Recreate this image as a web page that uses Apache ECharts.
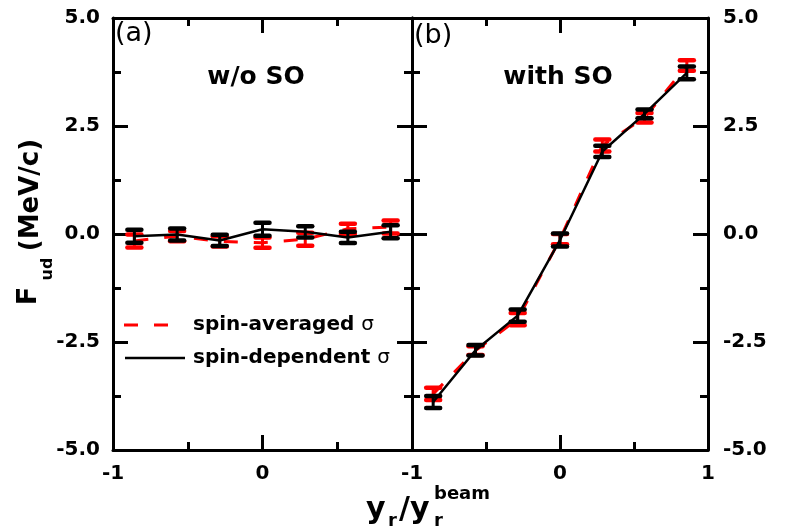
<!DOCTYPE html>
<html><head><meta charset="utf-8">
<script src="https://cdn.jsdelivr.net/npm/echarts@6/dist/echarts.min.js"></script>
<style>html,body{margin:0;padding:0;background:#fff}#c{width:786px;height:531px}</style>
</head><body><div id="c"></div>
<script>
// ---- data ----
const xValues = [-0.857, -0.571, -0.286, 0, 0.286, 0.571, 0.857];
// panel (a) w/o SO
const noSoAveraged    = [-0.16, -0.05, -0.17, -0.20, -0.12, 0.12, 0.16];
const noSoAveragedErr = [0.15, 0.12, 0.12, 0.12, 0.15, 0.12, 0.15];
const noSoDependent    = [-0.05, -0.01, -0.15, 0.11, 0.05, -0.08, 0.05];
const noSoDependentErr = [0.15, 0.14, 0.13, 0.15, 0.13, 0.13, 0.15];
// panel (b) with SO
const soAveraged    = [-3.70, -2.70, -1.97, -0.12, 2.05, 2.69, 3.90];
const soAveragedErr = [0.14, 0.10, 0.14, 0.12, 0.14, 0.11, 0.12];
const soDependent    = [-3.89, -2.69, -1.89, -0.14, 1.91, 2.78, 3.73];
const soDependentErr = [0.14, 0.12, 0.14, 0.15, 0.13, 0.10, 0.15];
const yTicks = [-5, -2.5, 0, 2.5, 5];
const xTicks = [-1, 0, 1];
const legendNames = ['spin-averaged', 'spin-dependent'];

const FONT = 'DejaVu Sans';
const RED = '#ff0000', BLACK = '#000000';

function pairs(ys) { return xValues.map((x, i) => [x, ys[i]]); }
function bars(ys, errs) { return xValues.map((x, i) => [x, ys[i] - errs[i], ys[i] + errs[i]]); }

function errRender(color) {
  return function (params, api) {
    const x = api.value(0);
    const lo = api.coord([x, api.value(1)]);
    const hi = api.coord([x, api.value(2)]);
    const hw = 7;
    const cap = { stroke: color, lineWidth: 4.5, fill: null, lineCap: 'round' };
    return { type: 'group', children: [
      { type: 'line', shape: { x1: lo[0], y1: lo[1], x2: hi[0], y2: hi[1] }, style: { stroke: color, lineWidth: 3 } },
      { type: 'line', shape: { x1: lo[0] - hw, y1: lo[1], x2: lo[0] + hw, y2: lo[1] }, style: cap },
      { type: 'line', shape: { x1: hi[0] - hw, y1: hi[1], x2: hi[0] + hw, y2: hi[1] }, style: cap }
    ]};
  };
}

const lineCommon = { color: BLACK, width: 3 };
function xAxisDef(gridIndex, position, showLabels, hideMax) {
  return {
    type: 'value', gridIndex, position, min: xTicks[0], max: xTicks[xTicks.length - 1], interval: xTicks[1] - xTicks[0],
    axisLine: { show: true, onZero: false, lineStyle: lineCommon },
    axisTick: { show: true, inside: true, length: 15, lineStyle: lineCommon },
    minorTick: { show: true, splitNumber: 2, length: 8, lineStyle: lineCommon },
    splitLine: { show: false }, minorSplitLine: { show: false },
    axisLabel: { show: showLabels, margin: 14, color: BLACK, fontFamily: FONT, fontWeight: 'bold', fontSize: 20,
      formatter: v => (hideMax && v === 1) ? '' : String(v) }
  };
}
function yAxisDef(gridIndex, position, showLabels, margin) {
  return {
    type: 'value', gridIndex, position, min: yTicks[0], max: yTicks[yTicks.length - 1], interval: yTicks[1] - yTicks[0],
    axisLine: { show: true, onZero: false, lineStyle: lineCommon },
    axisTick: { show: true, inside: true, length: 15, lineStyle: lineCommon },
    minorTick: { show: true, splitNumber: 2, length: 8, lineStyle: lineCommon },
    splitLine: { show: false }, minorSplitLine: { show: false },
    axisLabel: { show: showLabels, margin: margin, color: BLACK, fontFamily: FONT, fontWeight: 'bold', fontSize: 20,
      formatter: v => v.toFixed(1) }
  };
}

function panelSeries(xi, yi, avg, avgErr, dep, depErr) {
  return [
    { name: legendNames[0], type: 'line', xAxisIndex: xi, yAxisIndex: yi, data: pairs(avg), symbol: 'none',
      lineStyle: { color: RED, width: 3, type: [14, 16] }, itemStyle: { color: RED }, z: 2, animation: false },
    { name: 'avgErr', type: 'custom', xAxisIndex: xi, yAxisIndex: yi, data: bars(avg, avgErr),
      encode: { x: 0, y: [1, 2] }, renderItem: errRender(RED), z: 3, animation: false },
    { name: legendNames[1], type: 'line', xAxisIndex: xi, yAxisIndex: yi, data: pairs(dep), symbol: 'none',
      lineStyle: { color: BLACK, width: 2.5 }, itemStyle: { color: BLACK }, z: 4, animation: false },
    { name: 'depErr', type: 'custom', xAxisIndex: xi, yAxisIndex: yi, data: bars(dep, depErr),
      encode: { x: 0, y: [1, 2] }, renderItem: errRender(BLACK), z: 5, animation: false }
  ];
}

function txt(text, x, y, size, weight, align, valign, rot) {
  return { type: 'text', x, y, rotation: rot || 0, z: 100,
    style: { text, fill: BLACK, fontFamily: FONT, fontSize: size, fontWeight: weight,
      align: align, verticalAlign: valign, textAlign: align, textVerticalAlign: valign } };
}
function legendText(name, x, y) {
  return { type: 'text', x, y, z: 100,
    style: { text: '{b|' + name + ' }{s|σ}', fill: BLACK, align: 'left', verticalAlign: 'middle',
      textAlign: 'left', textVerticalAlign: 'middle',
      rich: { b: { fontFamily: FONT, fontSize: 20, fontWeight: 'bold', fill: BLACK, color: BLACK },
              s: { fontFamily: FONT, fontSize: 20, fontWeight: 'normal', fill: BLACK, color: BLACK } } } };
}

const chart = echarts.init(document.getElementById('c'), null, { renderer: 'canvas' });
chart.setOption({
  animation: false,
  backgroundColor: '#ffffff',
  grid: [
    { left: 113, top: 18, width: 299, height: 432 },
    { left: 412, top: 18, width: 296, height: 432 }
  ],
  xAxis: [
    xAxisDef(0, 'bottom', true, true),
    xAxisDef(0, 'top', false, false),
    xAxisDef(1, 'bottom', true, false),
    xAxisDef(1, 'top', false, false)
  ],
  yAxis: [
    yAxisDef(0, 'left', true, 13),
    yAxisDef(0, 'right', false, 13),
    yAxisDef(1, 'left', false, 13),
    yAxisDef(1, 'right', true, 15)
  ],
  series: [
    ...panelSeries(0, 0, noSoAveraged, noSoAveragedErr, noSoDependent, noSoDependentErr),
    ...panelSeries(2, 2, soAveraged, soAveragedErr, soDependent, soDependentErr)
  ],
  graphic: [
    txt('(a)', 115, 34, 27, 'normal', 'left', 'middle'),
    txt('w/o SO', 256, 77, 25, 'bold', 'center', 'middle'),
    txt('(b)', 414, 36, 27, 'normal', 'left', 'middle'),
    txt('with SO', 558, 77, 25, 'bold', 'center', 'middle'),
    txt('F', 29, 296, 27, 'bold', 'center', 'middle', Math.PI / 2),
    txt('ud', 48, 269, 16, 'bold', 'center', 'middle', Math.PI / 2),
    txt('(MeV/c)', 31, 195, 26, 'bold', 'center', 'middle', Math.PI / 2),
    txt('y', 366, 510, 30, 'bold', 'left', 'middle'),
    txt('r', 388, 521, 18, 'bold', 'left', 'middle'),
    txt('/y', 399, 510, 30, 'bold', 'left', 'middle'),
    txt('r', 434, 521, 18, 'bold', 'left', 'middle'),
    txt('beam', 434, 494, 18, 'bold', 'left', 'middle'),
    // legend
    { type: 'line', z: 100, shape: { x1: 124, y1: 325, x2: 171, y2: 325 },
      style: { stroke: RED, lineWidth: 3, lineDash: [14, 16] } },
    { type: 'line', z: 100, shape: { x1: 125, y1: 358, x2: 185, y2: 358 },
      style: { stroke: BLACK, lineWidth: 2.5 } },
    legendText(legendNames[0], 193, 325),
    legendText(legendNames[1], 193, 358)
  ]
});
</script>
</body></html>
